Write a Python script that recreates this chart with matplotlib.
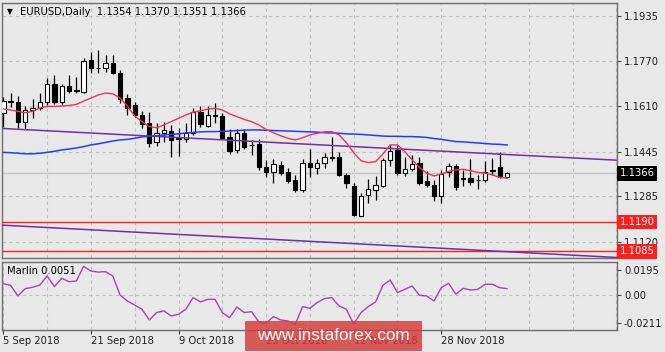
import numpy as np
import matplotlib
matplotlib.use('Agg')
from matplotlib import pyplot as plt
from matplotlib.patches import Rectangle

# EURUSD daily, 5 Sep 2018 .. 11 Dec 2018 (one entry per trading day)
opens = [1.1583, 1.1628, 1.1622, 1.1553, 1.1594, 1.1603, 1.1625, 1.1688, 1.1624, 1.1681,
         1.1662, 1.1660, 1.1775, 1.1746, 1.1746, 1.1763, 1.1727, 1.1637, 1.1614, 1.1577,
         1.1547, 1.1480, 1.1511, 1.1521, 1.1490, 1.1491, 1.1513, 1.1589, 1.1537, 1.1577,
         1.1573, 1.1496, 1.1451, 1.1513, 1.1467, 1.1472, 1.1391, 1.1370, 1.1397, 1.1370,
         1.1343, 1.1307, 1.1405, 1.1385, 1.1403, 1.1424, 1.1424, 1.1361, 1.1322, 1.1213,
         1.1288, 1.1306, 1.1321, 1.1415, 1.1451, 1.1367, 1.1381, 1.1403, 1.1340, 1.1325,
         1.1285, 1.1373, 1.1393, 1.1346, 1.1351, 1.1342, 1.1343, 1.1376, 1.1388, 1.1354]
highs = [1.1642, 1.1656, 1.1646, 1.1610, 1.1635, 1.1655, 1.1710, 1.1721, 1.1690, 1.1721,
         1.1713, 1.1783, 1.1803, 1.1811, 1.1793, 1.1793, 1.1739, 1.1653, 1.1625, 1.1590,
         1.1589, 1.1547, 1.1553, 1.1541, 1.1530, 1.1547, 1.1601, 1.1609, 1.1609, 1.1619,
         1.1583, 1.1525, 1.1525, 1.1525, 1.1487, 1.1492, 1.1415, 1.1418, 1.1411, 1.1385,
         1.1361, 1.1417, 1.1453, 1.1420, 1.1439, 1.1496, 1.1442, 1.1367, 1.1330, 1.1295,
         1.1345, 1.1357, 1.1422, 1.1469, 1.1469, 1.1427, 1.1433, 1.1427, 1.1375, 1.1343,
         1.1379, 1.1404, 1.1400, 1.1377, 1.1417, 1.1361, 1.1412, 1.1423, 1.1442, 1.1370]
lows = [1.1535, 1.1605, 1.1530, 1.1528, 1.1565, 1.1595, 1.1612, 1.1617, 1.1612, 1.1657,
        1.1655, 1.1657, 1.1727, 1.1727, 1.1733, 1.1725, 1.1619, 1.1578, 1.1570, 1.1530,
        1.1463, 1.1465, 1.1481, 1.1427, 1.1430, 1.1481, 1.1505, 1.1535, 1.1535, 1.1549,
        1.1490, 1.1435, 1.1440, 1.1455, 1.1433, 1.1380, 1.1354, 1.1331, 1.1360, 1.1331,
        1.1301, 1.1300, 1.1354, 1.1365, 1.1385, 1.1411, 1.1356, 1.1313, 1.1213, 1.1213,
        1.1258, 1.1270, 1.1318, 1.1393, 1.1359, 1.1356, 1.1375, 1.1326, 1.1318, 1.1267,
        1.1261, 1.1355, 1.1305, 1.1322, 1.1326, 1.1310, 1.1335, 1.1360, 1.1351, 1.1351]
closes = [1.1628, 1.1622, 1.1553, 1.1595, 1.1603, 1.1625, 1.1688, 1.1624, 1.1681, 1.1662,
          1.1668, 1.1773, 1.1748, 1.1745, 1.1763, 1.1730, 1.1634, 1.1601, 1.1577, 1.1545,
          1.1475, 1.1511, 1.1523, 1.1487, 1.1494, 1.1513, 1.1589, 1.1545, 1.1577, 1.1573,
          1.1493, 1.1447, 1.1513, 1.1461, 1.1470, 1.1388, 1.1370, 1.1400, 1.1367, 1.1339,
          1.1307, 1.1403, 1.1388, 1.1405, 1.1424, 1.1422, 1.1361, 1.1331, 1.1215, 1.1285,
          1.1309, 1.1324, 1.1415, 1.1448, 1.1367, 1.1382, 1.1400, 1.1331, 1.1325, 1.1285,
          1.1364, 1.1393, 1.1317, 1.1349, 1.1336, 1.1344, 1.1370, 1.1378, 1.1355, 1.1366]

# moving averages
ma_fast = [1.1599, 1.1595, 1.1590, 1.1585, 1.1590, 1.1602, 1.1608, 1.1608, 1.1609, 1.1611,
           1.1615, 1.1627, 1.1638, 1.1649, 1.1656, 1.1653, 1.1638, 1.1609, 1.1573, 1.1553,
           1.1535, 1.1531, 1.1541, 1.1553, 1.1565, 1.1577, 1.1587, 1.1592, 1.1598, 1.1601,
           1.1595, 1.1581, 1.1571, 1.1561, 1.1553, 1.1541, 1.1525, 1.1513, 1.1502, 1.1493,
           1.1487, 1.1495, 1.1505, 1.1511, 1.1516, 1.1517, 1.1505, 1.1477, 1.1441, 1.1412,
           1.1405, 1.1409, 1.1436, 1.1469, 1.1469, 1.1445, 1.1415, 1.1388, 1.1367, 1.1357,
           1.1364, 1.1374, 1.1379, 1.1381, 1.1376, 1.1370, 1.1367, 1.1361, 1.1352, 1.1349]
ma_slow = [1.1442, 1.1441, 1.1439, 1.1437, 1.1437, 1.1439, 1.1442, 1.1446, 1.1451, 1.1454,
           1.1458, 1.1463, 1.1469, 1.1473, 1.1478, 1.1483, 1.1487, 1.1489, 1.1493, 1.1498,
           1.1500, 1.1502, 1.1505, 1.1507, 1.1509, 1.1512, 1.1514, 1.1516, 1.1517, 1.1517,
           1.1518, 1.1519, 1.1521, 1.1522, 1.1523, 1.1523, 1.1522, 1.1521, 1.1520, 1.1519,
           1.1518, 1.1517, 1.1516, 1.1515, 1.1513, 1.1512, 1.1511, 1.1509, 1.1508, 1.1507,
           1.1505, 1.1503, 1.1501, 1.1500, 1.1500, 1.1499, 1.1499, 1.1498, 1.1496, 1.1492,
           1.1489, 1.1485, 1.1481, 1.1480, 1.1478, 1.1476, 1.1474, 1.1472, 1.1471, 1.1469]

# Marlin oscillator
marlin = [0.0090, 0.0077, -0.0005, 0.0051, 0.0062, 0.0079, 0.0149, 0.0067, 0.0131, 0.0105,
          0.0110, 0.0223, 0.0187, 0.0179, 0.0182, 0.0149, 0.0002, -0.0044, -0.0075, -0.0108,
          -0.0190, -0.0133, -0.0120, -0.0159, -0.0146, -0.0108, -0.0018, -0.0051, -0.0031, -0.0031,
          -0.0133, -0.0172, -0.0090, -0.0133, -0.0126, -0.0205, -0.0215, -0.0164, -0.0190, -0.0198,
          -0.0223, -0.0087, -0.0100, -0.0056, -0.0025, -0.0018, -0.0082, -0.0108, -0.0223, -0.0133,
          -0.0087, -0.0051, 0.0077, 0.0118, 0.0021, 0.0046, 0.0072, 0.0000, -0.0005, -0.0044,
          0.0059, 0.0092, 0.0008, 0.0054, 0.0041, 0.0046, 0.0085, 0.0085, 0.0059, 0.0051]

# trend channel (bar index, price) anchors and horizontal levels
chan_top = [(0, 1.15282), (69, 1.14344)]
chan_bot = [(0, 1.11795), (69, 1.10839)]
levels = [1.1190, 1.1085]
last_price = 1.1366

price_ticks = [1.1120, 1.1285, 1.1445, 1.1610, 1.1770, 1.1935]
marlin_ticks = [-0.0211, 0.0, 0.0195]
marlin_labels = ['-0.0211', '0.00', '0.0195']
date_pos = [0, 12, 24, 36, 48, 60]
date_labels = ['5 Sep 2018', '21 Sep 2018', '9 Oct 2018', '25 Oct 2018', '12 Nov 2018', '28 Nov 2018']

bg = '#e8e8e8'
grid_c = '#c0c0c0'
spine_c = '#707070'
fs = 7.2

W, H = 665, 352
fig = plt.figure(figsize=(W / 100, H / 100), dpi=100, facecolor=bg)
ax = fig.add_axes([2 / W, 94 / H, 615 / W, 255 / H], facecolor=bg)
ax2 = fig.add_axes([2 / W, 22 / H, 615 / W, 68 / H], facecolor=bg)

x = np.arange(len(closes))
o = np.array(opens)
c = np.array(closes)

# candles: wicks then bodies
ax.vlines(x, lows, highs, color='black', lw=0.9, zorder=3)
body_low = np.minimum(o, c)
body_h = np.maximum(np.abs(c - o), 0.00004)
body_col = ['white' if cc >= oo else 'black' for oo, cc in zip(o, c)]
ax.bar(x, body_h, width=0.6, bottom=body_low, color=body_col,
       edgecolor='black', linewidth=0.8, zorder=4)

# indicator lines
ax.axhline(last_price, color='#c8c8c8', lw=1, zorder=1)
for lv in levels:
    ax.axhline(lv, color='#ff1e1e', lw=1, zorder=5)
ax.axline(chan_top[0], chan_top[1], color='#7030a0', lw=1.1, zorder=5)
ax.axline(chan_bot[0], chan_bot[1], color='#7030a0', lw=1.1, zorder=5)
ax.plot(x, ma_slow, color='#2838ff', lw=1.1, zorder=5)
ax.plot(x, ma_fast, color='#e8355e', lw=1, zorder=6)

ax.set_xlim(-0.18, 84.07)
ax.set_ylim(1.10612, 1.19808)

# grid + axis for price panel
ax.set_xticks(range(6, 85, 6))
ax.tick_params(axis='x', length=0, labelbottom=False)
ax.set_yticks(price_ticks)
ax.set_yticklabels(['%.4f' % p for p in price_ticks])
ax.yaxis.tick_right()
ax.tick_params(axis='y', direction='out', length=3, width=0.8, color='#404040',
               labelsize=fs, labelcolor='#202020', pad=2)
ax.grid(True, color=grid_c, ls=(0, (3, 3)), lw=0.8, zorder=0)
for s in ax.spines.values():
    s.set_color(spine_c)
    s.set_linewidth(1)


def tag(axis, y, text, fc):
    axis.text(1.004, y, text, transform=axis.get_yaxis_transform(), ha='left', va='center',
              fontsize=fs, color='white', clip_on=False, zorder=10,
              bbox=dict(boxstyle='square,pad=0.22', fc=fc, ec='none'))


tag(ax, last_price, '%.4f' % last_price, 'black')
for lv in levels:
    tag(ax, lv, '%.4f' % lv, '#ff1e1e')

# Marlin panel
ax2.plot(x, marlin, color='#a844b4', lw=1, zorder=3)
ax2.axhline(0, color=grid_c, ls=(0, (3, 3)), lw=0.8, zorder=0)
ax2.set_xlim(-0.18, 84.07)
ax2.set_ylim(-0.02673, 0.02566)
ax2.set_yticks(marlin_ticks)
ax2.set_yticklabels(marlin_labels)
ax2.yaxis.tick_right()
ax2.tick_params(axis='y', direction='out', length=3, width=0.8, color='#404040',
                labelsize=fs, labelcolor='#202020', pad=2)
ax2.set_xticks(date_pos)
ax2.set_xticklabels(date_labels)
ax2.set_xticks([p for p in range(6, 85, 6) if p not in date_pos], minor=True)
ax2.tick_params(axis='x', which='major', direction='out', length=3, width=0.8,
                color='#404040', labelsize=fs, labelcolor='#202020', pad=1)
ax2.tick_params(axis='x', which='minor', length=0)
for lbl in ax2.get_xticklabels():
    lbl.set_ha('left')
ax2.grid(True, axis='x', which='both', color=grid_c, ls=(0, (3, 3)), lw=0.8, zorder=0)
for s in ax2.spines.values():
    s.set_color(spine_c)
    s.set_linewidth(1)

# header texts
fig.text(7 / W, 1 - 12 / H, '\u25BC', fontsize=5.5, va='center', color='black')
fig.text(20 / W, 1 - 12 / H, 'EURUSD,Daily  1.1354 1.1370 1.1351 1.1366',
         fontsize=fs, va='center', color='black')
fig.text(7 / W, 1 - 271 / H, 'Marlin 0.0051', fontsize=fs, va='center', color='black')

# watermark
fig.patches.append(Rectangle((245 / W, 1 / H), 177 / W, 30 / H, transform=fig.transFigure,
                             fc='#d63a3a', alpha=0.82, ec='none', zorder=20))
fig.text(333.5 / W, 16 / H, 'www.instaforex.com', ha='center', va='center', color='white',
         fontsize=12.3, family=['Liberation Sans', 'DejaVu Sans'], zorder=21)

fig.savefig('out.png', dpi=100, facecolor=bg)
